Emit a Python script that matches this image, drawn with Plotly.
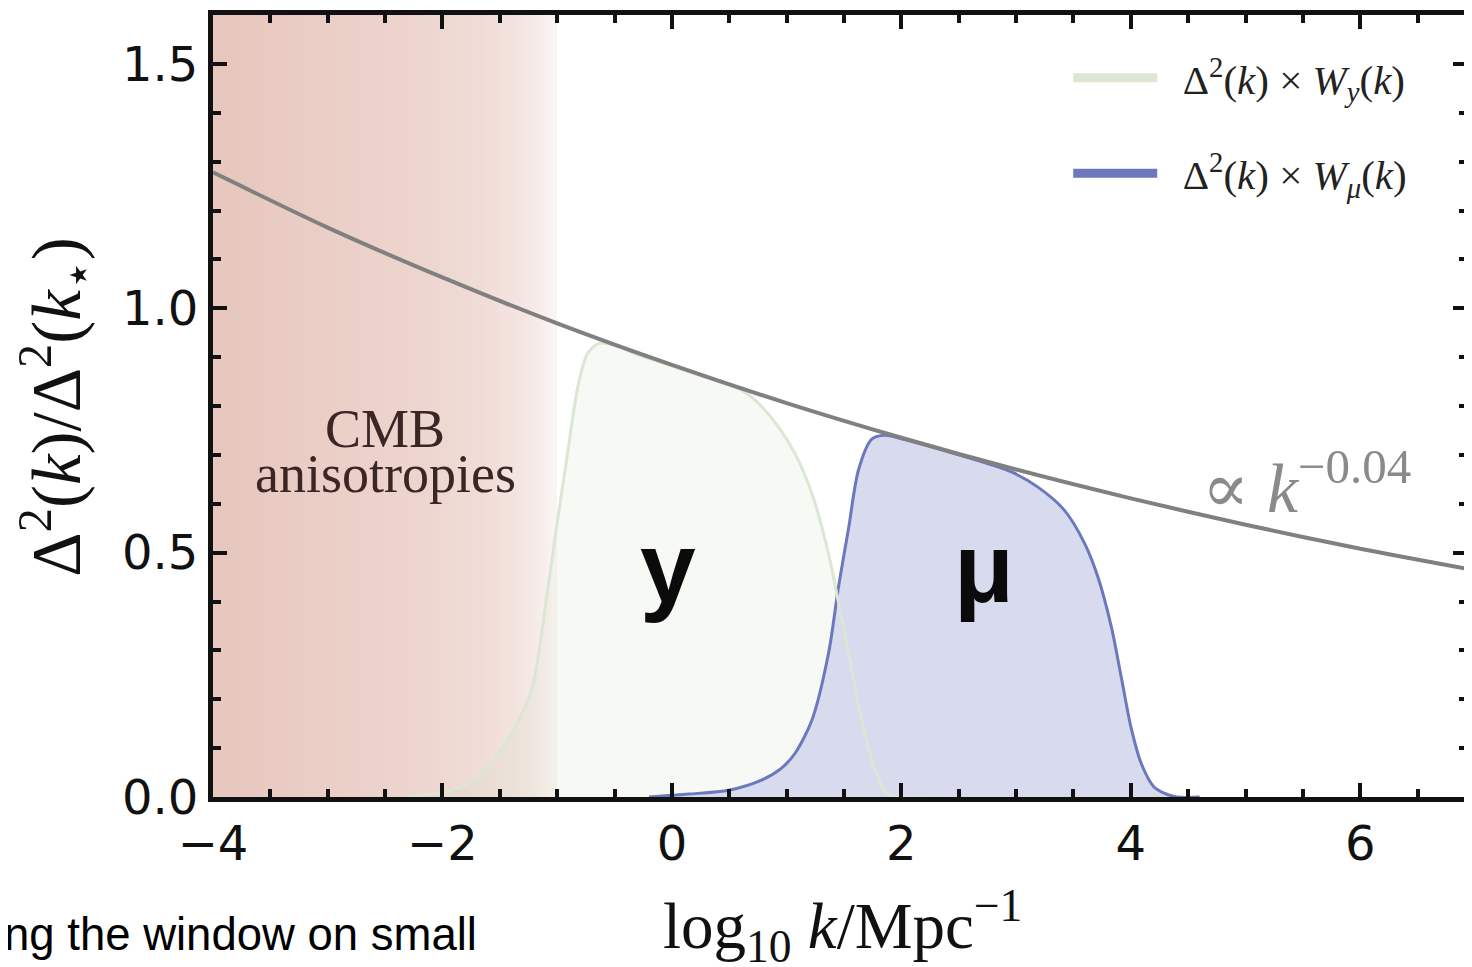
import plotly.graph_objects as go

# ---------------- data ----------------
# power-law spectrum  Δ²(k)/Δ²(k*)  ∝ k^-0.04
pl_x = [-4, -3, -2, -1, 0, 1, 2, 3, 4, 5, 6, 7]
pl_y = [1.278, 1.165, 1.063, 0.969, 0.884, 0.806, 0.735, 0.670, 0.611, 0.557, 0.508, 0.464]

# Δ²(k) × W_y(k)
wy_x = [-2.3, -1.97, -1.71, -1.49, -1.33, -1.215, -1.08, -0.997, -0.91, -0.82, -0.737, -0.635,
        -0.5, -0.3, 0.0, 0.3, 0.5, 0.65, 0.786, 0.93, 1.072, 1.22, 1.365, 1.45, 1.54, 1.655, 1.77,
        1.86, 1.95, 2.2]
wy_y = [0.0, 0.011, 0.035, 0.096, 0.16, 0.226, 0.43, 0.566, 0.703, 0.839, 0.907, 0.928,
        0.924, 0.905, 0.882, 0.858, 0.843, 0.826, 0.798, 0.757, 0.703, 0.621, 0.498, 0.40, 0.294,
        0.157, 0.055, 0.011, 0.0, 0.0]

# Δ²(k) × W_mu(k)
wm_x = [-0.2, 0.148, 0.496, 0.786, 0.95, 1.072, 1.22, 1.365, 1.452, 1.54, 1.626, 1.742, 1.857,
        2.0, 2.5, 2.96, 3.19, 3.42, 3.597, 3.713, 3.83, 3.916, 4.0, 4.09, 4.2, 4.29, 4.4, 4.6]
wm_y = [0.0, 0.006, 0.014, 0.035, 0.058, 0.089, 0.157, 0.294, 0.43, 0.55, 0.669, 0.732, 0.740,
        0.733, 0.700, 0.665, 0.634, 0.587, 0.519, 0.45, 0.348, 0.246, 0.144, 0.069, 0.021, 0.008,
        0.0, 0.0]

# CMB-anisotropy band: cell edges in log10 k and shading strength per cell
cmb_edges = [-4.0, -3.9, -3.8, -3.7, -3.6, -3.5, -3.4, -3.3, -3.2, -3.1, -3.0,
             -2.9, -2.8, -2.7, -2.6, -2.5, -2.4, -2.3, -2.2, -2.1, -2.0,
             -1.9, -1.8, -1.7, -1.6, -1.5, -1.4, -1.3, -1.2, -1.1, -1.0]
cmb_shade = [1.0, 0.99, 0.98, 0.96, 0.95, 0.93, 0.92, 0.90, 0.89, 0.87,
             0.86, 0.84, 0.83, 0.81, 0.80, 0.78, 0.77, 0.75, 0.73, 0.71,
             0.69, 0.67, 0.64, 0.61, 0.57, 0.53, 0.48, 0.42, 0.33, 0.20]
band_y = [0.0, 1.6]

x_range = [-4, 6.93]
y_range = [0, 1.6]

x_title = "log<sub>10</sub> <i>k</i>/Mpc<sup>−1</sup>"
y_title = "Δ<sup>2</sup>(<i>k</i>)/Δ<sup>2</sup>(<i>k</i><sub>⋆</sub>)"
legend_y = "\u2002Δ<sup>2</sup>(<i>k</i>) × <i>W</i><sub><i>y</i></sub>(<i>k</i>)"
legend_mu = "\u2002Δ<sup>2</sup>(<i>k</i>) × <i>W</i><sub><i>μ</i></sub>(<i>k</i>)"

SERIF = "Liberation Serif, DejaVu Serif, serif"
SANS = "DejaVu Sans, Verdana, sans-serif"

fig = go.Figure()

# CMB band (gradient)
fig.add_trace(go.Heatmap(
    x=cmb_edges, y=band_y, z=[cmb_shade],
    colorscale=[[0, "rgb(255,255,255)"], [1, "rgb(231,199,190)"]],
    zmin=0, zmax=1, showscale=False, hoverinfo="skip", zsmooth="best",
))

# y-window fill
fig.add_trace(go.Scatter(
    x=wy_x, y=wy_y, mode="lines", line=dict(width=0, shape="spline", smoothing=0.8),
    fill="tozeroy", fillcolor="rgba(200,220,190,0.17)", showlegend=False, hoverinfo="skip",
))
# mu-window fill + line
fig.add_trace(go.Scatter(
    x=wm_x, y=wm_y, mode="lines", line=dict(width=3, color="#6b78be", shape="spline", smoothing=0.8),
    fill="tozeroy", fillcolor="#d8daee", showlegend=False,
))
# y-window line on top
fig.add_trace(go.Scatter(
    x=wy_x, y=wy_y, mode="lines", line=dict(width=3, color="#dce6d4", shape="spline", smoothing=0.8),
    showlegend=False,
))
# power law
fig.add_trace(go.Scatter(
    x=pl_x, y=pl_y, mode="lines", line=dict(width=4, color="#808080", shape="spline", smoothing=0.8),
    showlegend=False,
))

# legend entries
fig.add_trace(go.Scatter(x=[None], y=[None], mode="lines", name=legend_y,
                         line=dict(width=9, color="#dce6d4"), legendgroup="a"))
fig.add_trace(go.Scatter(x=[None], y=[None], mode="lines", name=legend_mu,
                         line=dict(width=9, color="#6b78be"), legendgroup="b"))

axis_common = dict(
    showline=True, linewidth=5, linecolor="#111", mirror="ticks",
    ticks="inside", tickwidth=4, tickcolor="#111", ticklen=14,
    showgrid=False, zeroline=False,
    tickfont=dict(family=SANS, size=48, color="#111"),
)

# the page body adds an 8 px offset; sizes/margins compensate so the plot area
# sits at 213..1472 x 15..797 in the window
fig.update_layout(
    width=1464, height=959,
    margin=dict(l=205, r=0, t=7, b=170),
    plot_bgcolor="white", paper_bgcolor="white",
    xaxis=dict(range=x_range, tickmode="linear", tick0=-4, dtick=2,
               minor=dict(ticks="inside", ticklen=8, tickwidth=4, tickcolor="#111", dtick=0.5, tick0=-4),
               ticklabelstandoff=0, **axis_common),
    yaxis=dict(range=y_range, tickmode="linear", tick0=0, dtick=0.5, tickformat=".1f",
               minor=dict(ticks="inside", ticklen=8, tickwidth=4, tickcolor="#111", dtick=0.1, tick0=0),
               ticklabelstandoff=0, **axis_common),
    legend=dict(x=0.682, y=0.962, xanchor="left", yanchor="top",
                font=dict(family=SERIF, size=41, color="#222"),
                itemwidth=84, tracegroupgap=39, bgcolor="rgba(0,0,0,0)"),
    showlegend=True,
)

# axis titles
fig.add_annotation(xref="paper", yref="paper", x=0.502, y=-0.1655, text=x_title,
                   showarrow=False, xanchor="center", yanchor="middle",
                   font=dict(family=SERIF, size=65, color="#111"))
fig.add_annotation(xref="paper", yref="paper", x=-0.1255, y=0.4987, text=y_title,
                   showarrow=False, xanchor="center", yanchor="middle", textangle=-90,
                   font=dict(family=SERIF, size=69, color="#111"))

# annotations
fig.add_annotation(x=-2.5, y=0.752, text="CMB", showarrow=False,
                   font=dict(family=SERIF, size=54, color="#3b2626"), yanchor="middle")
fig.add_annotation(x=-2.5, y=0.660, text="anisotropies", showarrow=False,
                   font=dict(family=SERIF, size=54, color="#3b2626"), yanchor="middle")
fig.add_annotation(x=-0.03, y=0.47, text="<b>y</b>", showarrow=False,
                   font=dict(family="Liberation Sans, Arial, sans-serif", size=100, color="#0b0b0b"))
fig.add_annotation(x=2.72, y=0.468, text="<b>μ</b>", showarrow=False,
                   font=dict(family="Liberation Sans, Arial, sans-serif", size=98, color="#0b0b0b"))
fig.add_annotation(x=4.6, y=0.642, text="∝ <i>k</i><sup>−0.04</sup>", showarrow=False,
                   xanchor="left", yanchor="middle",
                   font=dict(family=SERIF, size=70, color="#8a8a8a"))
fig.add_annotation(xref="paper", yref="paper", x=(480 - 213) / 1259, y=-0.176,
                   text="ng the window on small", showarrow=False, xanchor="right", yanchor="middle",
                   font=dict(family="Liberation Sans, Arial, sans-serif", size=45.5, color="#000"))

fig.write_html("out.html")
